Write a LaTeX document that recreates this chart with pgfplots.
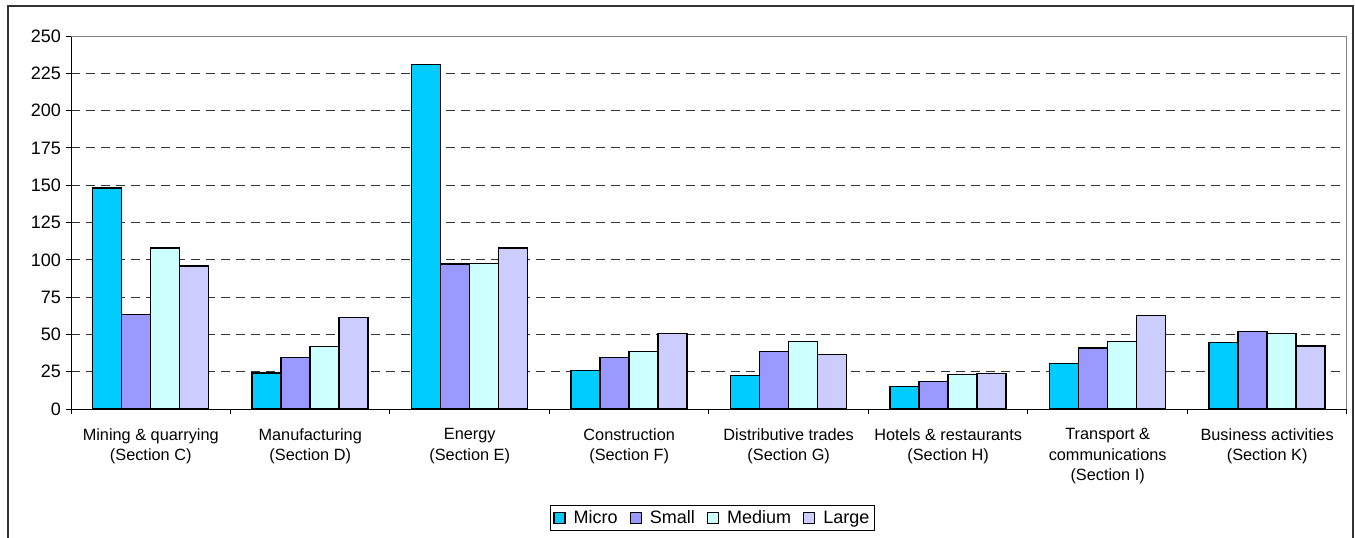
\documentclass[border=0pt]{standalone}
\usepackage{fontspec}
\setmainfont{Liberation Sans}
\usepackage{pgfplots}
\pgfplotsset{compat=1.18}
\definecolor{cmicro}{HTML}{00CCFF}
\definecolor{csmall}{HTML}{9999FF}
\definecolor{cmedium}{HTML}{CCFFFF}
\definecolor{clarge}{HTML}{CCCCFF}
\begin{document}
\begin{tikzpicture}[x=1pt,y=1pt]
\useasboundingbox (0,0) rectangle (1355,-538);
\draw[line width=1.5pt, black!80] (8,-538) -- (8,-6) -- (1353,-6) -- (1353,-538);
\begin{axis}[
  at={(71pt,-409pt)}, anchor=south west,
  scale only axis, width=1276pt, height=373pt,
  xmin=-0.5, xmax=7.5, ymin=0, ymax=250,
  axis lines*=left,
  axis line style={-, line width=1pt, black},
  every outer x axis line/.append style={-},
  every outer y axis line/.append style={-},
  ytick={0,25,...,250},
  xtick={0,...,7},
  xticklabels={{Mining \& quarrying\\(Section C)},{Manufacturing\\(Section D)},{Energy\\(Section E)},{Construction\\(Section F)},{Distributive trades\\(Section G)},{Hotels \& restaurants\\(Section H)},{Transport \&\\communications\\(Section I)},{Business activities\\(Section K)}},
  xticklabel style={align=center, font=\fontsize{16.3}{20.7}\selectfont, inner sep=0pt, yshift=-14pt},
  yticklabel style={font=\fontsize{18}{20}\selectfont, inner sep=0pt, xshift=-5pt},
  /pgf/number format/assume math mode=true,
  major x tick style={draw=none},
  minor xtick={-0.5,0.5,...,7.5},
  tick align=outside,
  major tick length=5pt, minor tick length=5pt,
  tick style={black, line width=1pt},
  ymajorgrids,
  grid style={black!80, line width=1pt, dash pattern=on 9pt off 6pt},
  ybar=0pt, bar width=29pt,
  legend columns=-1,
  legend style={at={(0.5027,-0.2922)}, anchor=center, draw=black, line width=1pt,
    font=\fontsize{18}{20}\selectfont, inner xsep=3pt, inner ysep=3pt,
    /tikz/every odd column/.append style={column sep=6pt},
    /tikz/every even column/.append style={column sep=10pt}},
  legend image code/.code={\draw[#1, draw=black, line width=1.2pt] (0pt,-5.5pt) rectangle (11pt,5.5pt);},
]
\addplot[fill=cmicro, draw=black, line width=1.5pt] coordinates {(0,148) (1,24) (2,231) (3,25.7) (4,22.5) (5,15.2) (6,30.6) (7,44.7)};
\addplot[fill=csmall, draw=black, line width=1.5pt] coordinates {(0,63.4) (1,34.6) (2,97.2) (3,34.6) (4,38.4) (5,18.5) (6,40.9) (7,51.8)};
\addplot[fill=cmedium, draw=black, line width=1.5pt] coordinates {(0,108) (1,42) (2,97.4) (3,38.4) (4,45.1) (5,23.2) (6,45.3) (7,50.5)};
\addplot[fill=clarge, draw=black, line width=1.5pt] coordinates {(0,96) (1,61.4) (2,108) (3,50.5) (4,36.4) (5,23.9) (6,62.7) (7,42.2)};
\legend{Micro,Small,Medium,Large}
\draw[gray, line width=1.5pt] (rel axis cs:0,1) -- (rel axis cs:1,1) -- (rel axis cs:1,0);
\end{axis}
\end{tikzpicture}
\end{document}
